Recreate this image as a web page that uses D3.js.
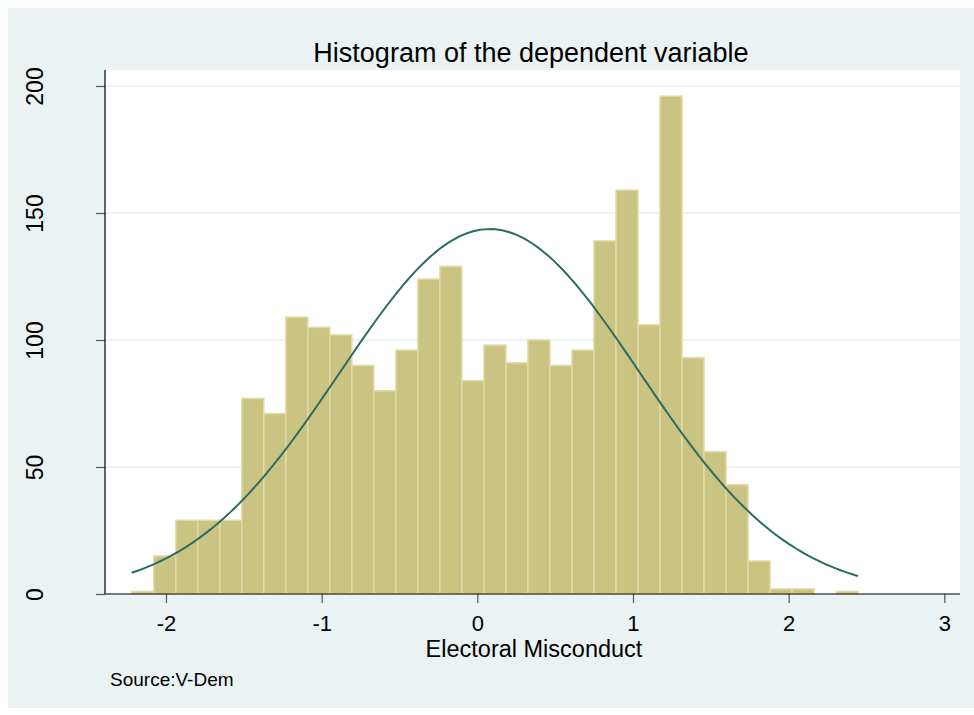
<!DOCTYPE html>
<html>
<head>
<meta charset="utf-8">
<script src="https://cdn.jsdelivr.net/npm/d3@7"></script>
<style>
  body { margin: 0; background: #ffffff; }
  svg { display: block; font-family: "Liberation Sans", Arial, sans-serif; }
</style>
</head>
<body>
<svg id="chart"></svg>
<script>
// histogram counts, 33 bins starting at binStart
const binStart = -2.22;
const binWidth = 0.1414;
const counts = [1, 15, 29, 29, 29, 77, 71, 109, 105, 102, 90, 80, 96, 124, 129, 84,
                98, 91, 100, 90, 96, 139, 159, 106, 196, 93, 56, 43, 13, 2, 2, 0, 1];

// normal density overlay parameters
const meanValue = 0.08;
const sdValue = 0.964;

const xTicks = [-2, -1, 0, 1, 2, 3];
const yTicks = [0, 50, 100, 150, 200];

const titleText = "Histogram of the dependent variable";
const xLabel = "Electoral Misconduct";
const noteText = "Source:V-Dem";

const width = 974, height = 715;
const svg = d3.select("#chart").attr("width", width).attr("height", height);

const plotLeft = 105, plotRight = 960, plotTop = 70, plotBottom = 594;

const x = d3.scaleLinear().domain([-2, 3]).range([166, 944.3]);
const y = d3.scaleLinear().domain([0, 200]).range([plotBottom, 86]);

// outer graph region
svg.append("rect")
    .attr("x", 8).attr("y", 8)
    .attr("width", width - 8).attr("height", 700)
    .attr("fill", "#eaf2f3");

// plot region
svg.append("rect")
    .attr("x", plotLeft).attr("y", plotTop)
    .attr("width", plotRight - plotLeft).attr("height", plotBottom - plotTop)
    .attr("fill", "#ffffff");

// gridlines
svg.append("g")
    .selectAll("line")
    .data(yTicks.filter(d => d > 0))
    .enter().append("line")
    .attr("x1", plotLeft).attr("x2", plotRight)
    .attr("y1", d => y(d)).attr("y2", d => y(d))
    .attr("stroke", "#eaf2f3")
    .attr("stroke-width", 2);

// bars
const bins = counts.map((c, i) => ({ x0: binStart + i * binWidth, x1: binStart + (i + 1) * binWidth, count: c }));

svg.append("g")
    .selectAll("rect")
    .data(bins.filter(d => d.count > 0))
    .enter().append("rect")
    .attr("x", d => x(d.x0))
    .attr("y", d => y(d.count))
    .attr("width", d => x(d.x1) - x(d.x0))
    .attr("height", d => y(0) - y(d.count))
    .attr("fill", "#cbc381")
    .attr("stroke", "#e0dba8")
    .attr("stroke-width", 1.5);

// normal curve scaled to frequency
const total = d3.sum(counts);
const xMin = binStart, xMax = binStart + counts.length * binWidth;
const curvePts = d3.range(0, 201).map(i => {
    const v = xMin + (xMax - xMin) * i / 200;
    const z = (v - meanValue) / sdValue;
    return [v, total * binWidth * Math.exp(-0.5 * z * z) / (sdValue * Math.sqrt(2 * Math.PI))];
});

svg.append("path")
    .datum(curvePts)
    .attr("d", d3.line().x(d => x(d[0])).y(d => y(d[1])))
    .attr("fill", "none")
    .attr("stroke", "#2b6c64")
    .attr("stroke-width", 2);

// y axis
const yAxis = svg.append("g")
    .attr("transform", `translate(${plotLeft},0)`)
    .call(d3.axisLeft(y).tickValues(yTicks).tickFormat(d => String(d)).tickSize(9).tickSizeOuter(0).tickPadding(0));
yAxis.select(".domain").remove();
yAxis.append("line")
    .attr("x1", 0).attr("x2", 0)
    .attr("y1", plotTop).attr("y2", plotBottom)
    .attr("stroke", "#000").attr("stroke-width", 1.2);
yAxis.selectAll(".tick line").attr("stroke", "#555").attr("stroke-width", 1.2);
yAxis.selectAll(".tick text")
    .attr("x", 0).attr("y", 0)
    .attr("transform", "translate(-62,0) rotate(-90)")
    .attr("text-anchor", "middle")
    .attr("dy", 0)
    .style("font-size", "23px")
    .style("font-family", "\"Liberation Sans\", Arial, sans-serif")
    .attr("fill", "#000");

// x axis
const xAxis = svg.append("g")
    .attr("transform", `translate(0,${plotBottom})`)
    .call(d3.axisBottom(x).tickValues(xTicks).tickFormat(d => String(d)).tickSize(9).tickSizeOuter(0).tickPadding(0));
xAxis.select(".domain").remove();
xAxis.append("line")
    .attr("x1", plotLeft).attr("x2", plotRight)
    .attr("y1", 0).attr("y2", 0)
    .attr("stroke", "#000").attr("stroke-width", 1.2);
xAxis.selectAll(".tick line").attr("stroke", "#555").attr("stroke-width", 1.2);
xAxis.selectAll(".tick text")
    .attr("y", 37).attr("dy", 0)
    .style("font-size", "22px")
    .style("font-family", "\"Liberation Sans\", Arial, sans-serif")
    .attr("fill", "#000");

// title, axis label, note
svg.append("text")
    .attr("x", 531).attr("y", 62)
    .attr("text-anchor", "middle")
    .style("font-size", "27px")
    .attr("fill", "#000")
    .text(titleText);

svg.append("text")
    .attr("x", 534).attr("y", 657)
    .attr("text-anchor", "middle")
    .style("font-size", "23.5px")
    .attr("fill", "#000")
    .text(xLabel);

svg.append("text")
    .attr("x", 110).attr("y", 686)
    .style("font-size", "19px")
    .attr("fill", "#000")
    .text(noteText);
</script>
</body>
</html>
